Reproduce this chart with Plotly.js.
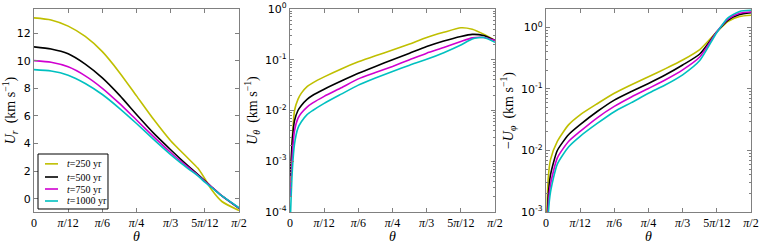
<!DOCTYPE html>
<html><head><meta charset="utf-8">
<script src="https://cdn.plot.ly/plotly-3.0.1.min.js"></script>
<style>html,body{margin:0;padding:0;background:#fff}#chart{width:762px;height:244px}</style>
</head><body><div id="chart"></div>
<script>
// ---- data (theta in degrees) ----
const seriesNames = ['t = 250 yr', 't = 500 yr', 't = 750 yr', 't = 1000 yr'];
const seriesColors = ['#bfbf00', '#000000', '#d000d0', '#00c0c0'];

const thetaUr = [0, 7.5, 15, 22.5, 30, 37.5, 45, 52.5, 60, 67.5, 72, 75, 78, 82.5, 90];
const Ur250  = [13.1, 12.95, 12.5, 11.75, 10.65, 9.15, 7.45, 5.75, 4.2, 2.95, 2.2, 1.45, 0.65, -0.2, -0.85];
const Ur500  = [11.0, 10.85, 10.5, 9.75, 8.75, 7.5, 6.1, 4.75, 3.55, 2.4, 1.75, 1.3, 0.85, 0.2, -0.7];
const Ur750  = [10.0, 9.88, 9.55, 8.9, 8.0, 6.9, 5.7, 4.5, 3.35, 2.3, 1.7, 1.25, 0.85, 0.2, -0.67];
const Ur1000 = [9.35, 9.25, 8.95, 8.35, 7.55, 6.55, 5.45, 4.3, 3.2, 2.2, 1.65, 1.2, 0.8, 0.2, -0.65];

const thetaUt = [0.2, 1, 2, 3.5, 5, 7.5, 10, 15, 22.5, 30, 37.5, 45, 52.5, 60, 67.5, 75, 80, 85, 90];
const Ut250  = [3e-4, 2.6e-3, 0.010, 0.0166, 0.022, 0.0295, 0.035, 0.046, 0.066, 0.091, 0.12, 0.155, 0.204, 0.275, 0.347, 0.427, 0.40, 0.32, 0.24];
const Ut500  = [5e-4, 2.5e-3, 6.3e-3, 0.010, 0.0126, 0.0166, 0.020, 0.0263, 0.038, 0.054, 0.074, 0.10, 0.135, 0.182, 0.234, 0.288, 0.316, 0.30, 0.24];
const Ut750  = [2e-4, 1.26e-3, 4e-3, 7e-3, 8.9e-3, 0.0117, 0.0141, 0.019, 0.028, 0.042, 0.056, 0.074, 0.10, 0.135, 0.174, 0.229, 0.27, 0.275, 0.24];
const Ut1000 = [8e-5, 6.3e-4, 2.2e-3, 4.5e-3, 6e-3, 8.3e-3, 0.010, 0.0138, 0.021, 0.0316, 0.0437, 0.059, 0.078, 0.102, 0.138, 0.195, 0.257, 0.275, 0.22];

const thetaUp = [0.2, 1, 2, 5, 10, 15, 22.5, 30, 37.5, 45, 52.5, 60, 67.5, 75, 80, 85, 90];
const Up250  = [5e-4, 3.5e-3, 7.1e-3, 0.0141, 0.0263, 0.038, 0.0575, 0.085, 0.117, 0.158, 0.214, 0.295, 0.436, 0.85, 1.26, 1.51, 1.58];
const Up500  = [2.5e-4, 1.8e-3, 4e-3, 0.010, 0.0182, 0.0263, 0.043, 0.066, 0.091, 0.123, 0.17, 0.245, 0.37, 0.85, 1.32, 1.62, 1.74];
const Up750  = [1.5e-4, 1.26e-3, 2.8e-3, 7.6e-3, 0.0141, 0.0204, 0.034, 0.052, 0.074, 0.102, 0.141, 0.204, 0.33, 0.85, 1.38, 1.70, 1.78];
const Up1000 = [8e-5, 8.9e-4, 2.1e-3, 6e-3, 0.0115, 0.017, 0.0275, 0.0427, 0.06, 0.085, 0.117, 0.17, 0.29, 0.83, 1.45, 1.82, 1.90];

const xTickDeg = [0, 15, 30, 45, 60, 75, 90];
const xTickText = ['0', '<i>π</i>/12', '<i>π</i>/6', '<i>π</i>/4', '<i>π</i>/3', '5<i>π</i>/12', '<i>π</i>/2'];
const urTicks = [0, 2, 4, 6, 8, 10, 12];
const utTicks = [1e-4, 1e-3, 1e-2, 1e-1, 1];
const utTickText = ['10<sup>-4</sup>', '10<sup>-3</sup>', '10<sup>-2</sup>', '10<sup>-1</sup>', '10<sup>0</sup>'];
const upTicks = [1e-3, 1e-2, 1e-1, 1];
const upTickText = ['10<sup>-3</sup>', '10<sup>-2</sup>', '10<sup>-1</sup>', '10<sup>0</sup>'];

// ---- build ----
const rad = d => d * Math.PI / 180;
const panels = [
  {th: thetaUr, ys: [Ur250, Ur500, Ur750, Ur1000], xa: 'x', ya: 'y'},
  {th: thetaUt, ys: [Ut250, Ut500, Ut750, Ut1000], xa: 'x2', ya: 'y2'},
  {th: thetaUp, ys: [Up250, Up500, Up750, Up1000], xa: 'x3', ya: 'y3'}
];
const traces = [];
panels.forEach(p => {
  p.ys.forEach((y, i) => {
    traces.push({x: p.th.map(rad), y: y, xaxis: p.xa, yaxis: p.ya, type: 'scatter', mode: 'lines',
      name: seriesNames[i], showlegend: false, line: {color: seriesColors[i], width: 1.6, shape: 'spline', smoothing: 0.6}});
  });
});

const frame = '#808080';
const tickFontSans = {family: 'DejaVu Sans', size: 11, color: '#000'};
const tickFontSerif = {family: 'Liberation Serif', size: 12, color: '#000'};
const titleFont = {family: 'Liberation Serif', size: 14, color: '#000'};
function xaxis(dom, anchor) {
  return {domain: dom, anchor: anchor, range: [0, Math.PI / 2], tickmode: 'array',
    tickvals: xTickDeg.map(rad), ticktext: xTickText, ticks: 'inside', ticklen: 4, tickcolor: frame,
    showline: true, linecolor: frame, linewidth: 1, mirror: 'ticks', showgrid: false, zeroline: false,
    tickfont: tickFontSerif, title: {text: '<i>θ</i>', font: titleFont, standoff: 2}};
}
function yaxisBase(dom, anchor) {
  return {domain: dom, anchor: anchor, ticks: 'inside', ticklen: 4, tickcolor: frame,
    showline: true, linecolor: frame, linewidth: 1, mirror: 'ticks', showgrid: false, zeroline: false,
    tickfont: tickFontSans};
}
const dom1 = [0, 0.2859], dom2 = [0.357, 0.643], dom3 = [0.714, 1];
const y1 = Object.assign(yaxisBase([0, 1], 'x'), {range: [-0.96, 13.74], tickmode: 'array', tickvals: urTicks,
  title: {text: '<i>U<sub>r</sub></i>  (km s<sup>−1</sup>)', font: titleFont, standoff: 4}});
const minorLog = {ticks: 'inside', ticklen: 2, tickcolor: frame, dtick: 'D1', showgrid: false};
const y2 = Object.assign(yaxisBase([0, 1], 'x2'), {type: 'log', range: [-4, 0], tickmode: 'array', tickvals: utTicks,
  ticktext: utTickText, minor: minorLog,
  title: {text: '<i>U<sub>θ</sub></i>  (km s<sup>−1</sup>)', font: titleFont, standoff: 4}});
const y3 = Object.assign(yaxisBase([0, 1], 'x3'), {type: 'log', range: [-3, 0.30], tickmode: 'array', tickvals: upTicks,
  ticktext: upTickText, minor: minorLog,
  title: {text: '−<i>U<sub>φ</sub></i>  (km s<sup>−1</sup>)', font: titleFont, standoff: 4}});

// manual legend inside panel 1
const legX0 = 0.0056, legX1 = 0.1032, legY0 = 0.0148, legY1 = 0.2857;
const rowY = [0.2372, 0.1724, 0.1133, 0.0542];
const shapes = [{type: 'rect', xref: 'paper', yref: 'paper', x0: legX0, x1: legX1, y0: legY0, y1: legY1,
  line: {color: '#000', width: 1}, fillcolor: '#fff', layer: 'above'}];
const annotations = [];
seriesNames.forEach((n, i) => {
  shapes.push({type: 'line', xref: 'paper', yref: 'paper', x0: 0.0153, x1: 0.0335, y0: rowY[i], y1: rowY[i],
    line: {color: seriesColors[i], width: 1.6}, layer: 'above'});
  const parts = n.split(' ');
  annotations.push({xref: 'paper', yref: 'paper', x: 0.0430, y: rowY[i], xanchor: 'left', yanchor: 'middle',
    showarrow: false, text: '<i>' + parts[0] + '</i>' + parts[1] + parts[2] + ' ' + parts[3],
    font: {family: 'Liberation Serif', size: 10, color: '#000'}});
});

const layout = {
  width: 762, height: 244, margin: {l: 34, r: 11, t: 9, b: 32},
  paper_bgcolor: '#fff', plot_bgcolor: '#fff', showlegend: false,
  xaxis: xaxis(dom1, 'y'), xaxis2: xaxis(dom2, 'y2'), xaxis3: xaxis(dom3, 'y3'),
  yaxis: y1, yaxis2: y2, yaxis3: y3, shapes: shapes, annotations: annotations
};
Plotly.newPlot('chart', traces, layout, {staticPlot: true, displayModeBar: false});
</script></body></html>
